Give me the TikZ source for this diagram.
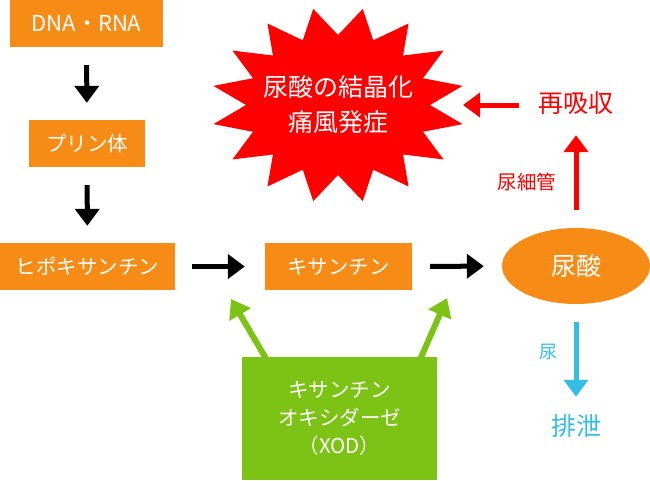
\documentclass[tikz,border=0pt]{standalone}
\usepackage{fontspec}
\setmainfont{Noto Sans CJK JP}
\usepackage{tikz}
\usetikzlibrary{arrows.meta,shapes.geometric}
\definecolor{BoxOrange}{RGB}{246,139,21}
\definecolor{EnzGreen}{RGB}{124,195,22}
\definecolor{UrineBlue}{RGB}{52,190,228}
\definecolor{BurstRed}{RGB}{255,0,0}
\newcommand\px[2]{\fontsize{#1}{#2}\selectfont}
\tikzset{%
  OrangeBox/.style={fill=BoxOrange,text=white,minimum height=47pt,inner sep=0pt,font=\px{20.5}{21}},
  FlowArrow/.style={line width=5pt,-{Triangle[width=24pt,length=17pt]}},
  EnzArrow/.style={EnzGreen,line width=6pt,-{Triangle[width=24pt,length=18pt]}},
  BigLabel/.style={inner sep=0pt,text height=20pt,text depth=5pt,font=\px{25}{25}}
}
\begin{document}
\begin{tikzpicture}[x=1pt,y=-1pt]
  \useasboundingbox (0,0) rectangle (650,480);
  \node[OrangeBox,minimum width=153pt,font=\px{22}{22}] (dna) at (86.5,23.5) {DNA・RNA};
  \node[OrangeBox,minimum width=116pt] (purine) at (87,143.5) {プリン体};
  \node[OrangeBox,minimum width=175pt] (hypo) at (87.5,266.5) {ヒポキサンチン};
  \node[OrangeBox,minimum width=147pt] (xan) at (338.5,266.5) {キサンチン};
  \node[ellipse,fill=BoxOrange,text=white,minimum width=148pt,minimum height=76pt,
    inner sep=0pt,font=\px{25}{25}] (uric) at (576,266) {尿酸};
  \fill[BurstRed,shift={(338,105)}] (0:92 and 70)
    \foreach \i in {0,...,15}{ -- ({22.5*\i+11.25}:127 and 98) -- ({22.5*\i+22.5}:92 and 70) } -- cycle;
  \node[text=white,align=center,font=\px{25}{35},inner sep=0pt] (burst) at (338,105)
    {尿酸の結晶化\\痛風発症};
  \coordinate (burstTip) at (463,105);
  \node[BigLabel,text=BurstRed] (reabs) at (576,105) {再吸収};
  \node[BigLabel,text=UrineBlue] (excr) at (576,428) {排泄};
  \node[text=BurstRed,font=\px{19.5}{20},inner sep=0pt] (tubule) at (527,182) {尿細管};
  \node[text=UrineBlue,font=\px{18}{18},inner sep=0pt] (urine) at (548,352) {尿};
  \coordinate (tipA) at (231,299);
  \coordinate (tipB) at (447,298);
  \draw[EnzArrow] (268,362) -- (tipA);
  \draw[EnzArrow] (419,362) -- (tipB);
  \node[fill=EnzGreen,text=white,minimum width=195pt,minimum height=123pt,align=center,
    font=\px{20.5}{28},inner sep=0pt] (xod) at (339.5,418.5)
    {キサンチン\\オキシダーゼ\\（XOD）};
  \draw[FlowArrow,shorten <=18pt,shorten >=17pt] (dna) -- (purine);
  \draw[FlowArrow,shorten <=18pt,shorten >=17pt] (purine) -- (hypo);
  \draw[FlowArrow,shorten <=17pt,shorten >=20pt] (hypo) -- (xan);
  \draw[FlowArrow,shorten <=18pt,shorten >=18pt] (xan) -- (uric);
  \draw[FlowArrow,BurstRed,shorten <=18pt,shorten >=17.5pt] (uric) -- (reabs);
  \draw[FlowArrow,BurstRed,shorten <=19pt] (reabs) -- (burstTip);
  \draw[FlowArrow,UrineBlue,shorten <=18pt,shorten >=18.5pt] (uric) -- (excr);
\end{tikzpicture}
\end{document}
